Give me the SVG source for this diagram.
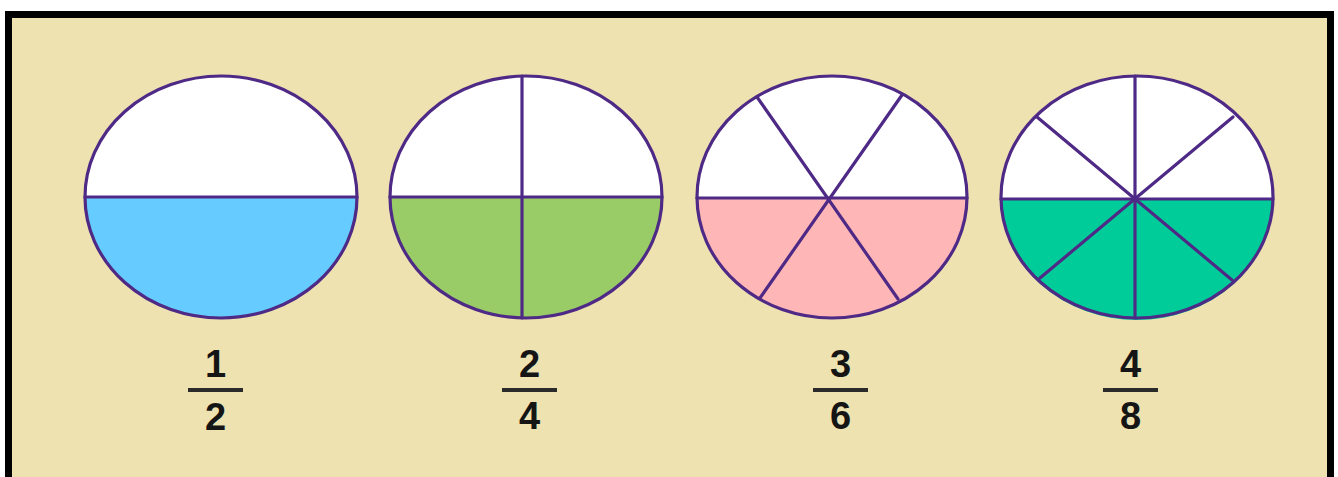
<svg xmlns="http://www.w3.org/2000/svg" width="1338" height="477" viewBox="0 0 1338 477">
<style>
.out{fill:none;stroke:#4e2a86;stroke-width:3.2}
.sp{stroke:#4e2a86;stroke-width:3.2;stroke-linecap:round}
.wh{fill:#ffffff}
.num{font-family:"Liberation Sans",Arial,sans-serif;font-weight:bold;font-size:38px;fill:#151515;text-anchor:middle}
.bar{stroke:#2a2a2a;stroke-width:4}
</style>
<rect x="0" y="0" width="1338" height="477" fill="#ffffff"/>
<rect x="5" y="11" width="1329" height="470" fill="#000000"/>
<rect x="12" y="18" width="1315" height="460" fill="#eee2b0"/>

<g id="pie-half">
<ellipse class="wh" cx="221" cy="197" rx="136" ry="121"/>
<path d="M85,197 A136,121 0 0 0 357,197 Z" fill="#66ccff"/>
<ellipse class="out" cx="221" cy="197" rx="136" ry="121"/>
<line class="sp" x1="85" y1="197" x2="357" y2="197"/>
</g>

<g id="pie-quarters">
<ellipse class="wh" cx="526" cy="197" rx="136" ry="121"/>
<path d="M390,197 A136,121 0 0 0 662,197 Z" fill="#99cc66"/>
<ellipse class="out" cx="526" cy="197" rx="136" ry="121"/>
<line class="sp" x1="390" y1="197" x2="662" y2="197"/>
<line class="sp" x1="522" y1="76" x2="522" y2="318"/>
</g>

<g id="pie-sixths">
<ellipse class="wh" cx="832" cy="197" rx="135" ry="121"/>
<path d="M697,198 A135,121 0 0 0 967,198 Z" fill="#ffb6b6"/>
<ellipse class="out" cx="832" cy="197" rx="135" ry="121"/>
<line class="sp" x1="697" y1="198" x2="967" y2="198"/>
<line class="sp" x1="757" y1="97" x2="898" y2="299"/>
<line class="sp" x1="902" y1="95" x2="760" y2="298"/>
</g>

<g id="pie-eighths">
<ellipse class="wh" cx="1137" cy="197" rx="136" ry="121"/>
<path d="M1001,199 A136,121 0 0 0 1273,199 Z" fill="#00cc99"/>
<ellipse class="out" cx="1137" cy="197" rx="136" ry="121"/>
<line class="sp" x1="1001" y1="199" x2="1273" y2="199"/>
<line class="sp" x1="1135" y1="76" x2="1135" y2="318"/>
<line class="sp" x1="1037" y1="117" x2="1232" y2="280"/>
<line class="sp" x1="1233" y1="117" x2="1040" y2="278"/>
</g>

<g id="frac-1-2">
<text class="num" x="215.5" y="377">1</text>
<line class="bar" x1="188" y1="390" x2="243" y2="390"/>
<text class="num" x="215.5" y="430">2</text>
</g>
<g id="frac-2-4">
<text class="num" x="529.5" y="377">2</text>
<line class="bar" x1="502" y1="390" x2="557" y2="390"/>
<text class="num" x="529.5" y="429">4</text>
</g>
<g id="frac-3-6">
<text class="num" x="840.5" y="377">3</text>
<line class="bar" x1="813" y1="390" x2="868" y2="390"/>
<text class="num" x="840.5" y="429">6</text>
</g>
<g id="frac-4-8">
<text class="num" x="1130.5" y="377">4</text>
<line class="bar" x1="1103" y1="390" x2="1158" y2="390"/>
<text class="num" x="1130.5" y="429">8</text>
</g>
</svg>
